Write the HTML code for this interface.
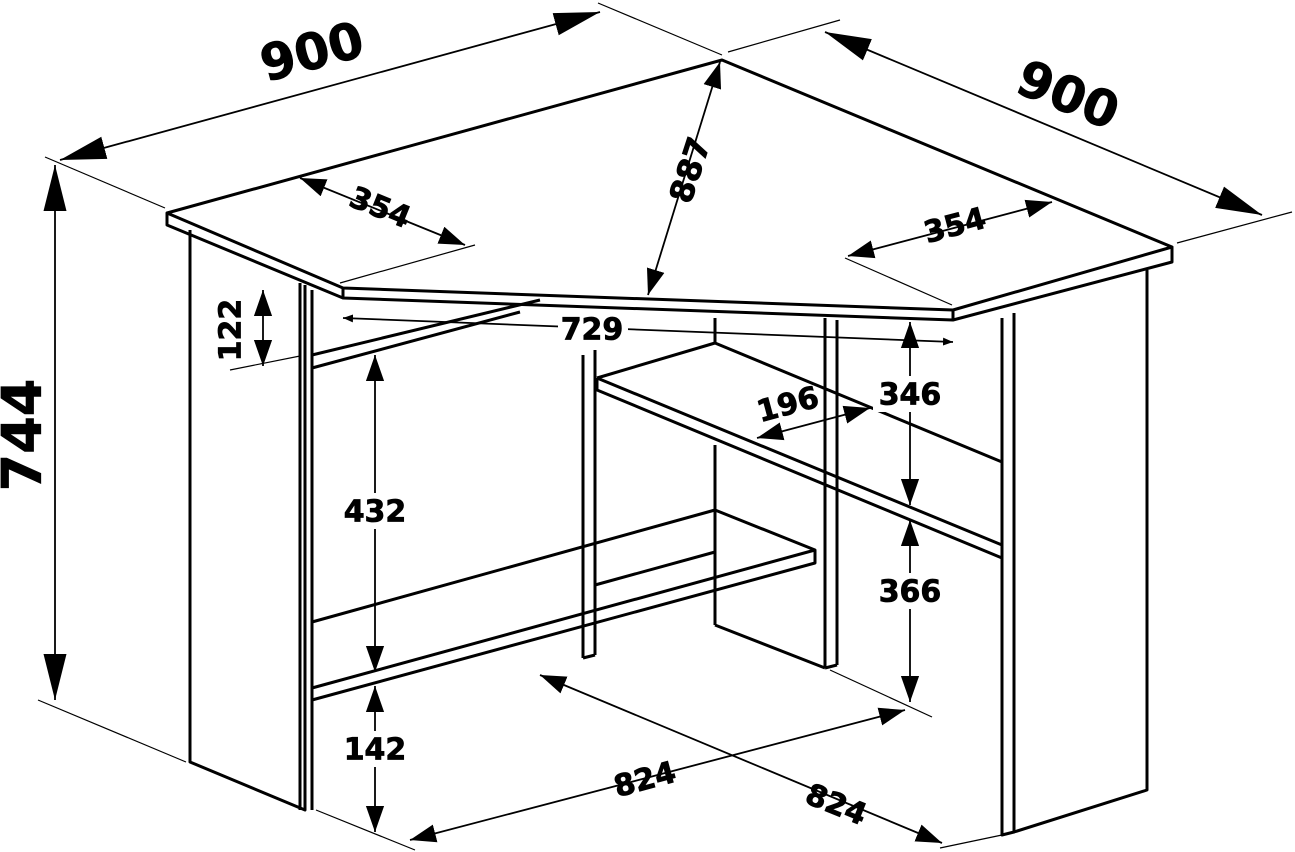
<!DOCTYPE html>
<html><head><meta charset="utf-8"><style>
html,body{margin:0;padding:0;background:#fff;}
svg{display:block;}
text{font-family:"DejaVu Sans","Liberation Sans",sans-serif;font-weight:bold;fill:#000;text-anchor:middle;dominant-baseline:central;stroke:#000;stroke-width:0.8;}
</style></head><body>
<svg width="1295" height="852" viewBox="0 0 1295 852" xmlns="http://www.w3.org/2000/svg">
<defs>
<marker id="a" viewBox="0 0 10 10" refX="10" refY="5" markerWidth="10" markerHeight="10" orient="auto-start-reverse" markerUnits="userSpaceOnUse"><path d="M0,1 L10,5 L0,9 z"/></marker>
<marker id="b" viewBox="0 0 10 10" refX="10" refY="5" markerWidth="26" markerHeight="26" orient="auto-start-reverse" markerUnits="userSpaceOnUse"><path d="M0,1.5 L10,5 L0,8.5 z"/></marker>
<marker id="c" viewBox="0 0 10 10" refX="10" refY="5" markerWidth="46" markerHeight="46" orient="auto-start-reverse" markerUnits="userSpaceOnUse"><path d="M0,2.5 L10,5 L0,7.5 z"/></marker>
</defs>
<g fill="none" stroke="#000" stroke-width="3" stroke-linejoin="round">
<path d="M167,213 L722,60 L1172,247 L953,310 L343,288 Z" fill="#fff"/>
<path d="M167,213 L167,225 L343,298 L953,320 L1172,262 L1172,247"/>
<line x1="343" y1="288" x2="343" y2="298"/><line x1="953" y1="310" x2="953" y2="320"/>
<path d="M190,230 L190,762 L305,810 L305,285"/>
<line x1="300" y1="283" x2="300" y2="810"/>
<line x1="312" y1="290" x2="312" y2="810"/>
<path d="M1002,318 L1002,835 L1014,832 L1014,313"/>
<path d="M1014,832 L1147,790 L1147,270"/>
<line x1="583" y1="355" x2="583" y2="658"/>
<line x1="595" y1="350" x2="595" y2="655"/>
<line x1="583" y1="658" x2="595" y2="655"/>
<line x1="715" y1="318" x2="715" y2="342"/>
<line x1="715" y1="445" x2="715" y2="625"/>
<line x1="825" y1="318" x2="825" y2="668"/>
<line x1="837" y1="320" x2="837" y2="665"/>
<line x1="825" y1="668" x2="837" y2="665"/>
<line x1="715" y1="625" x2="825" y2="668"/>
<line x1="312" y1="355" x2="540" y2="300"/>
<line x1="312" y1="368" x2="520" y2="312"/>
<path d="M597,378 L715,343 L1002,462" />
<path d="M597,378 L1002,545 M597,378 L597,390 L1002,558"/>
<path d="M312,622 L715,510 L815,550 L815,563 L312,700"/>
<line x1="815" y1="550" x2="312" y2="688"/>
<line x1="595" y1="585" x2="715" y2="552"/>
</g>
<g stroke="#000" stroke-width="1.2">
<line x1="45" y1="157" x2="165" y2="208"/>
<line x1="598" y1="3" x2="722" y2="55"/>
<line x1="728" y1="52" x2="840" y2="20"/>
<line x1="1177" y1="243" x2="1292" y2="212"/>
<line x1="38" y1="700" x2="186" y2="762"/>
<line x1="340" y1="283" x2="475" y2="245"/>
<line x1="845" y1="258" x2="952" y2="305"/>
<line x1="230" y1="370" x2="300" y2="356"/>
<line x1="316" y1="810" x2="415" y2="850"/>
<line x1="830" y1="670" x2="932" y2="717"/>
<line x1="1002" y1="835" x2="940" y2="848"/>
</g>
<g stroke="#000" stroke-width="1.8" fill="none">
<line x1="60" y1="160" x2="600" y2="12" marker-start="url(#c)" marker-end="url(#c)"/>
<line x1="825" y1="32" x2="1262" y2="215" marker-start="url(#c)" marker-end="url(#c)"/>
<line x1="55" y1="165" x2="55" y2="700" marker-start="url(#c)" marker-end="url(#c)"/>
<line x1="720" y1="62" x2="648" y2="295" marker-start="url(#b)" marker-end="url(#b)"/>
<line x1="300" y1="178" x2="465" y2="245" marker-start="url(#b)" marker-end="url(#b)"/>
<line x1="848" y1="256" x2="1052" y2="202" marker-start="url(#b)" marker-end="url(#b)"/>
<line x1="263" y1="290" x2="263" y2="366" marker-start="url(#b)" marker-end="url(#b)"/>
<line x1="343" y1="318" x2="953" y2="342" marker-start="url(#a)" marker-end="url(#a)"/>
<line x1="375" y1="355" x2="375" y2="672" marker-start="url(#b)" marker-end="url(#b)"/>
<line x1="375" y1="686" x2="375" y2="832" marker-start="url(#b)" marker-end="url(#b)"/>
<line x1="910" y1="322" x2="910" y2="505" marker-start="url(#b)" marker-end="url(#b)"/>
<line x1="910" y1="520" x2="910" y2="702" marker-start="url(#b)" marker-end="url(#b)"/>
<line x1="757" y1="438" x2="870" y2="408" marker-start="url(#b)" marker-end="url(#b)"/>
<line x1="410" y1="840" x2="905" y2="710" marker-start="url(#b)" marker-end="url(#b)"/>
<line x1="540" y1="675" x2="942" y2="843" marker-start="url(#b)" marker-end="url(#b)"/>
</g>
<g fill="#fff">
<rect x="558" y="314" width="70" height="32"/>
<rect x="338" y="493" width="74" height="36"/>
<rect x="338" y="731" width="74" height="36"/>
<rect x="873" y="376" width="74" height="36"/>
<rect x="873" y="573" width="74" height="36"/>
</g>
<text x="312" y="52" font-size="50" transform="rotate(-15 312 52)">900</text>
<text x="1068" y="95" font-size="50" transform="rotate(22 1068 95)">900</text>
<text x="22" y="435" font-size="54" transform="rotate(-90 22 435)">744</text>
<text x="690" y="170" font-size="32" transform="rotate(-72 690 170)">887</text>
<text x="380" y="208" font-size="30" transform="rotate(22 380 208)">354</text>
<text x="955" y="226" font-size="30" transform="rotate(-15 955 226)">354</text>
<text x="231" y="330" font-size="30" transform="rotate(-90 231 330)">122</text>
<text x="592" y="330" font-size="30">729</text>
<text x="375" y="512" font-size="30">432</text>
<text x="375" y="750" font-size="30">142</text>
<text x="910" y="395" font-size="30">346</text>
<text x="910" y="592" font-size="30">366</text>
<text x="788" y="405" font-size="30" transform="rotate(-15 788 405)">196</text>
<text x="645" y="780" font-size="30" transform="rotate(-15 645 780)">824</text>
<text x="836" y="805" font-size="30" transform="rotate(22 836 805)">824</text>
</svg>
</body></html>
